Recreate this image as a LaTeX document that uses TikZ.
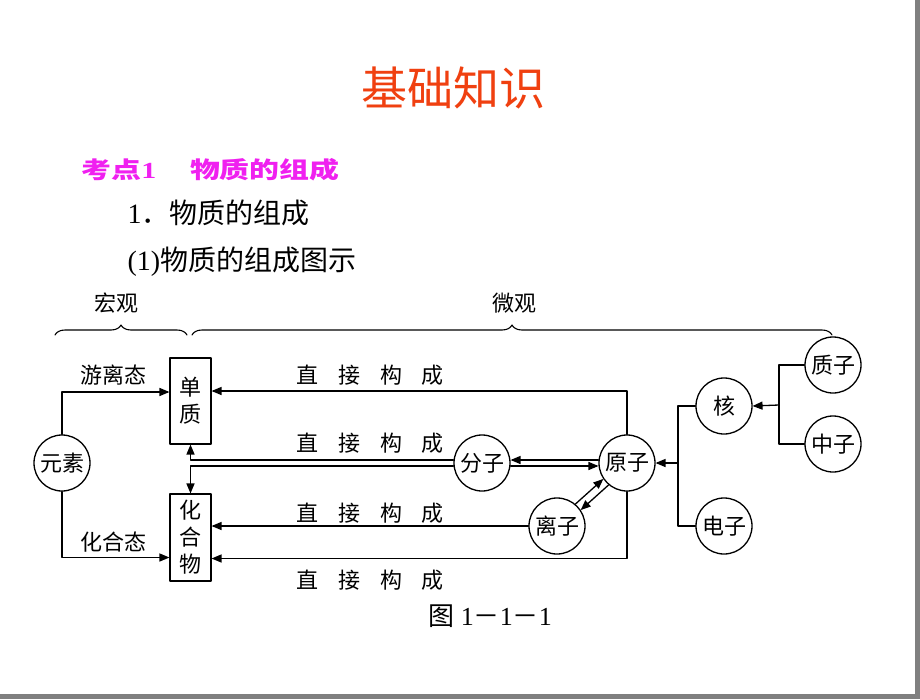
\documentclass[tikz,border=0pt]{standalone}
\usepackage{fontspec}
\setmainfont{Liberation Serif}
\newfontfamily\cjk{Noto Sans CJK SC}
\usetikzlibrary{arrows}
\usetikzlibrary{decorations.pathreplacing}
\definecolor{titlered}{RGB}{240,64,16}
\definecolor{kdmagenta}{RGB}{240,32,240}
\definecolor{framegray}{RGB}{128,128,128}
\tikzset{
  ball/.style={circle,draw,line width=1.3pt,minimum size=56pt,inner sep=0pt,font=\cjk\fontsize{22}{24}\selectfont},
  pillar/.style={rectangle,draw,line width=1.3pt,minimum width=41pt,align=center,inner sep=0pt,font=\cjk\fontsize{22}{27}\selectfont},
  word/.style={font=\cjk\fontsize{22}{24}\selectfont},
  wire/.style={line width=1.3pt},
  curly/.style={line width=1.1pt,decorate,decoration={brace,amplitude=10pt}}
}
\newcommand{\zjgc}{直\hspace{20pt}接\hspace{20pt}构\hspace{20pt}成}
\begin{document}
\begin{tikzpicture}[x=1pt,y=-1pt,line cap=round,line join=round,>=triangle 45]
        \fill[white] (0,0) rectangle (920,699);
        \useasboundingbox (0,0) rectangle (920,699);
        \fill[framegray] (915,0) rectangle (920,699);
        \fill[framegray] (0,694) rectangle (920,699);
        % headings
        \node[text=titlered,font=\cjk\fontsize{46}{50}\selectfont] (title) at (453,88) {基础知识};
        \node[anchor=west,text=kdmagenta,font=\cjk\bfseries\fontsize{23}{26}\selectfont] (kaodian) at (78,170) {\scalebox{1.3}[1]{考点\textrm{1}\hspace{26pt}物质的组成}};
        \node[anchor=west,font=\fontsize{28}{32}\selectfont] (item) at (124,213) {1{\cjk ．物质的组成}};
        \node[anchor=west,font=\fontsize{28}{32}\selectfont] (sub) at (124,262) {(1){\cjk 物质的组成图示}};
        % braces
        \coordinate (hgL) at (55,335);
        \coordinate (hgR) at (187,335);
        \coordinate (wgL) at (192,335);
        \coordinate (wgR) at (832,335);
        \draw[curly] (hgL) -- (hgR);
        \draw[curly] (wgL) -- (wgR);
        \node[word] (hongguan) at (116,303) {宏观};
        \node[word] (weiguan) at (514,303) {微观};
        % nodes
        \node[ball] (yuansu) at (62,463) {元素};
        \node[pillar,minimum height=86pt] (danzhi) at (190.5,401) {单\\质};
        \node[pillar,minimum height=87pt] (huahewu) at (190.5,537.5) {化\\合\\物};
        \node[ball] (fenzi) at (482,463) {分子};
        \node[ball] (yuanzi) at (627,463) {原子};
        \node[ball] (lizi) at (557,526) {离子};
        \node[ball] (he) at (724,406) {核};
        \node[ball] (dianzi) at (724,526) {电子};
        \node[ball] (zhizi) at (833,365) {质子};
        \node[ball] (zhongzi) at (833,444) {中子};
        % labels
        \node[word] (youli) at (113,375) {游离态};
        \node[word] (huahe) at (113,542) {化合态};
        \node[word] (zj1) at (370,375) {\zjgc};
        \node[word] (zj2) at (370,443) {\zjgc};
        \node[word] (zj3) at (370,513) {\zjgc};
        \node[word] (zj4) at (370,580) {\zjgc};
        \node[font=\fontsize{26}{30}\selectfont] (caption) at (490,616) {{\cjk 图}~1{\cjk －}1{\cjk －}1};
        % connectors
        \coordinate (fork) at (678,463);
        \coordinate (fork2) at (779,405);
        \draw[wire,->] (yuansu.north) |- ([yshift=9pt]danzhi.west);
        \draw[wire,->] (yuansu.south) |- ([yshift=-20pt]huahewu.west);
        \draw[wire,->] (yuanzi.north) |- ([yshift=10pt]danzhi.east);
        \draw[wire,->] ([yshift=3pt]fenzi.west) -| (danzhi.south);
        \draw[wire,->] ([yshift=-3pt]fenzi.west) -| (huahewu.north);
        \draw[wire,->] ([yshift=3pt]yuanzi.west) -- ([yshift=3pt]fenzi.east);
        \draw[wire,->] ([yshift=-3pt]fenzi.east) -- ([yshift=-3pt]yuanzi.west);
        \draw[wire,->] (lizi.50) -- (yuanzi.214);
        \draw[wire,->] (yuanzi.230) -- (lizi.34);
        \draw[wire,->] (lizi.west) -- (lizi.west -| huahewu.east);
        \draw[wire,->] (yuanzi.south) |- ([yshift=-21pt]huahewu.east);
        \draw[wire,->] (fork) -- (yuanzi.east);
        \draw[wire] (he.west) -| (fork) |- (dianzi.west);
        \draw[wire,->] (fork2) -- (he.east);
        \draw[wire] (zhizi.west) -| (fork2) |- (zhongzi.west);
      \end{tikzpicture}
\end{document}
